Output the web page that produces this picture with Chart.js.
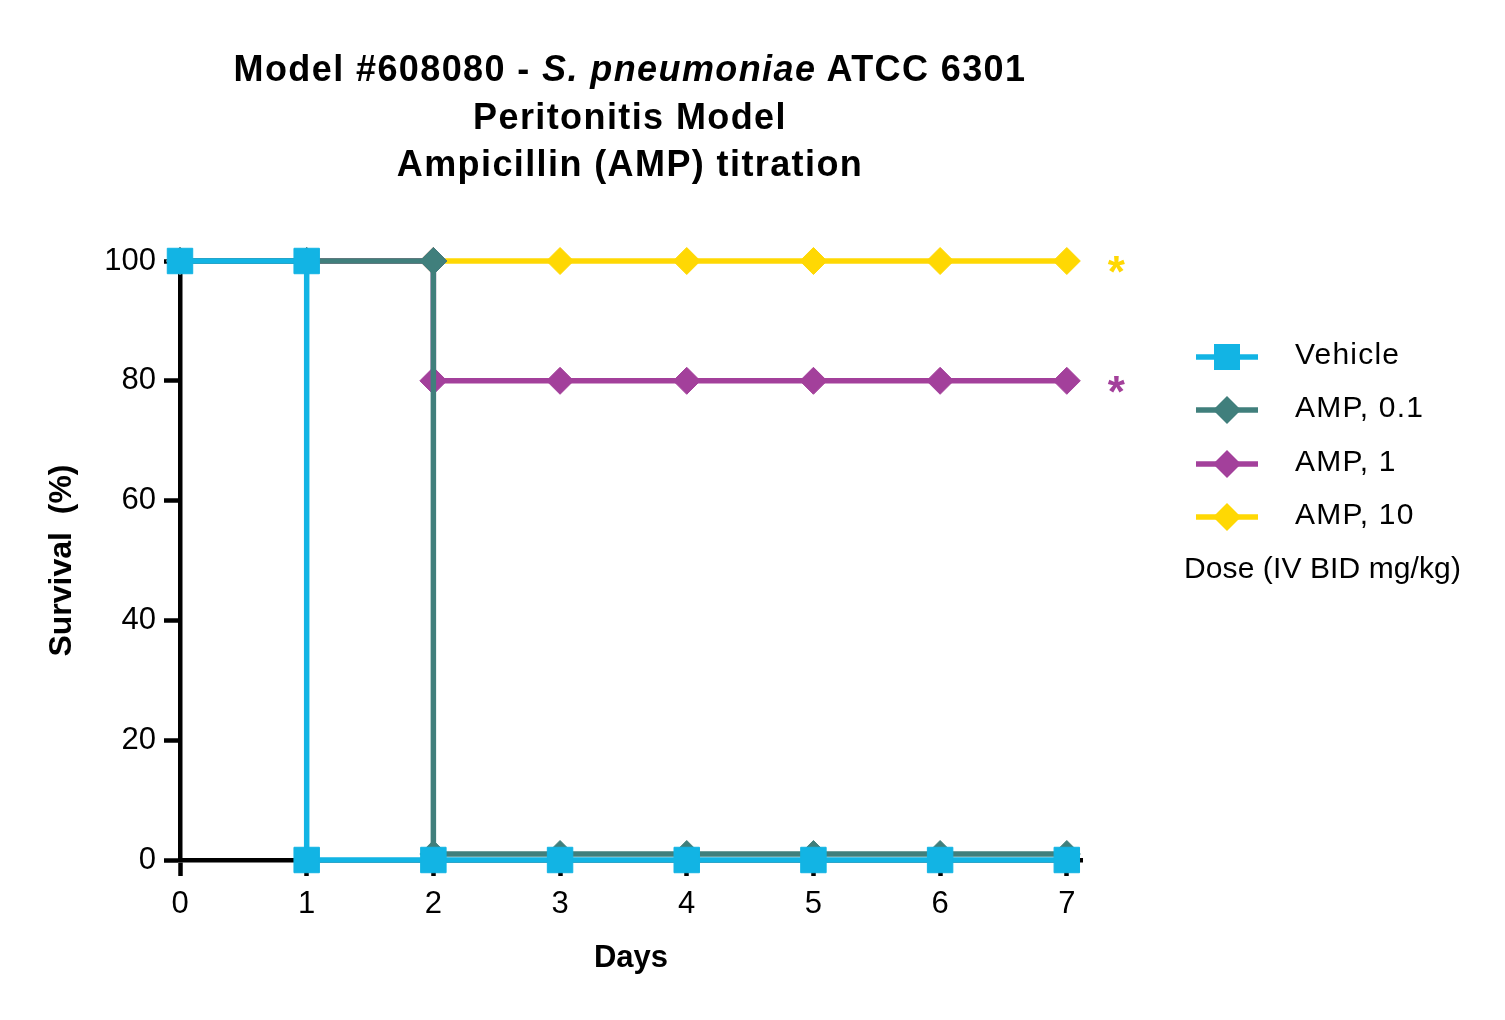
<!DOCTYPE html>
<html>
<head>
<meta charset="utf-8">
<script src="https://cdn.jsdelivr.net/npm/chart.js@4.4.1/dist/chart.umd.min.js"></script>
<style>
  html, body { margin: 0; padding: 0; background: #fff; }
  body { width: 1505px; height: 1020px; position: relative; overflow: hidden; font-family: "Liberation Sans", Arial, sans-serif; }
  #wrap { position: absolute; left: 0; top: 0; width: 1505px; height: 1020px; }
  #title { position: absolute; left: 180px; width: 900px; top: 45px; text-align: center; font-weight: bold; font-size: 36px; line-height: 47.5px; letter-spacing: 1.4px; color: #000; white-space: nowrap; }
  #legend { position: absolute; left: 1184px; top: 331px; color: #000; font-size: 30px; }
  .row { position: relative; height: 53.3px; }
  .row svg { position: absolute; left: 12px; top: 6px; }
  .row span { position: absolute; left: 111px; top: 6px; letter-spacing: 1.2px; white-space: nowrap; }
  #legendNote { position: absolute; left: 0; top: 220px; white-space: nowrap; letter-spacing: 0.1px; }
</style>
</head>
<body>
<div id="wrap"><canvas id="c" width="1505" height="1020"></canvas></div>
<div id="title">Model #608080 - <i>S. pneumoniae</i> ATCC 6301<br>Peritonitis Model<br>Ampicillin (AMP) titration</div>
<div id="legend"></div>
<script>
// ---- data ----
const seriesNames = ["Vehicle", "AMP, 0.1", "AMP, 1", "AMP, 10"];
const vehicleDays = [0, 1, 1, 2, 3, 4, 5, 6, 7];
const vehicleSurvival = [100, 100, 0, 0, 0, 0, 0, 0, 0];
const amp01Days = [0, 1, 2, 2, 3, 4, 5, 6, 7];
const amp01Survival = [100, 100, 100, 1, 1, 1, 1, 1, 1];
const amp1Days = [0, 1, 2, 2, 3, 4, 5, 6, 7];
const amp1Survival = [100, 100, 100, 80, 80, 80, 80, 80, 80];
const amp10Days = [0, 1, 2, 3, 4, 5, 6, 7];
const amp10Survival = [100, 100, 100, 100, 100, 100, 100, 100];
const xTickValues = [0, 1, 2, 3, 4, 5, 6, 7];
const yTickValues = [0, 20, 40, 60, 80, 100];
const sigMarks = ["*", "*"];
const sigSurvival = [100, 80];
const sigSeries = [3, 2];
const titleX = "Days";
const titleY = "Survival  (%)";
const legendNote = "Dose (IV BID mg/kg)";

// ---- styles ----
const colors = ["#12B4E4", "#407F7C", "#A3409B", "#FFD803"];
const markers = ["rect", "rectRot", "rectRot", "rectRot"];
const radii = [18, 13.5, 13.5, 13.5];
const FONT = "'Liberation Sans', Arial, sans-serif";

function pts(xs, ys) { return xs.map((x, i) => ({ x: x, y: ys[i] })); }
const allDays = [vehicleDays, amp01Days, amp1Days, amp10Days];
const allSurv = [vehicleSurvival, amp01Survival, amp1Survival, amp10Survival];

const datasets = seriesNames.map((name, i) => ({
  label: name,
  data: pts(allDays[i], allSurv[i]),
  borderColor: colors[i],
  backgroundColor: colors[i],
  borderWidth: 5.5,
  pointStyle: markers[i],
  pointRadius: radii[i],
  pointBackgroundColor: colors[i],
  pointBorderColor: colors[i],
  pointBorderWidth: 1,
  tension: 0,
  clip: false,
  fill: false
}));

const sigPlugin = {
  id: "sig",
  afterDatasetsDraw(chart) {
    const ctx = chart.ctx;
    const xs = chart.scales.x, ys = chart.scales.y;
    ctx.save();
    ctx.font = "bold 44px " + FONT;
    ctx.textAlign = "center";
    ctx.textBaseline = "alphabetic";
    sigMarks.forEach((m, i) => {
      ctx.fillStyle = colors[sigSeries[i]];
      ctx.fillText(m, xs.getPixelForValue(7.39), ys.getPixelForValue(sigSurvival[i]) + 26);
    });
    ctx.restore();
  }
};

new Chart(document.getElementById("c"), {
  type: "line",
  data: { datasets: datasets },
  options: {
    responsive: false,
    animation: false,
    events: [],
    layout: { padding: { top: 261, right: 423, left: 0, bottom: 0 } },
    plugins: { legend: { display: false }, tooltip: { enabled: false }, title: { display: false } },
    scales: {
      x: {
        type: "linear",
        min: 0,
        max: 7.12,
        afterBuildTicks: (s) => { s.ticks = xTickValues.map(v => ({ value: v })); },
        afterFit: (s) => { s.height = 160; },
        grid: { display: true, drawOnChartArea: false, drawTicks: true, tickLength: 16, tickWidth: 4.5, tickColor: "#000" },
        border: { display: true, width: 4.5, color: "#000" },
        ticks: { color: "#000", font: { family: FONT, size: 31 }, padding: 10, maxRotation: 0, autoSkip: false },
        title: { display: true, text: titleX, color: "#000", font: { family: FONT, size: 31, weight: "bold" }, padding: { top: 0, bottom: 43 } }
      },
      y: {
        type: "linear",
        min: 0,
        max: 100,
        afterBuildTicks: (s) => { s.ticks = yTickValues.map(v => ({ value: v })); },
        afterFit: (s) => { s.width = 180; },
        grid: { display: true, drawOnChartArea: false, drawTicks: true, tickLength: 16, tickWidth: 4.5, tickColor: "#000" },
        border: { display: true, width: 4.5, color: "#000" },
        ticks: { color: "#000", font: { family: FONT, size: 31 }, padding: 8 },
        title: { display: true, text: titleY, color: "#000", font: { family: FONT, size: 32, weight: "bold" }, padding: { top: 43, bottom: 0 } }
      }
    }
  },
  plugins: [sigPlugin]
});

// ---- legend (HTML) ----
const legend = document.getElementById("legend");
seriesNames.forEach((name, i) => {
  const row = document.createElement("div");
  row.className = "row";
  let mk;
  if (markers[i] === "rect") {
    mk = '<rect x="18" y="7" width="26" height="26" fill="' + colors[i] + '"/>';
  } else {
    mk = '<polygon points="31,6 45,20 31,34 17,20" fill="' + colors[i] + '"/>';
  }
  row.innerHTML = '<svg width="62" height="40"><line x1="0" y1="20" x2="62" y2="20" stroke="' + colors[i] + '" stroke-width="5.5"/>' + mk + '</svg><span>' + name + '</span>';
  legend.appendChild(row);
});
const note = document.createElement("div");
note.id = "legendNote";
note.textContent = legendNote;
legend.appendChild(note);
</script>
</body>
</html>
